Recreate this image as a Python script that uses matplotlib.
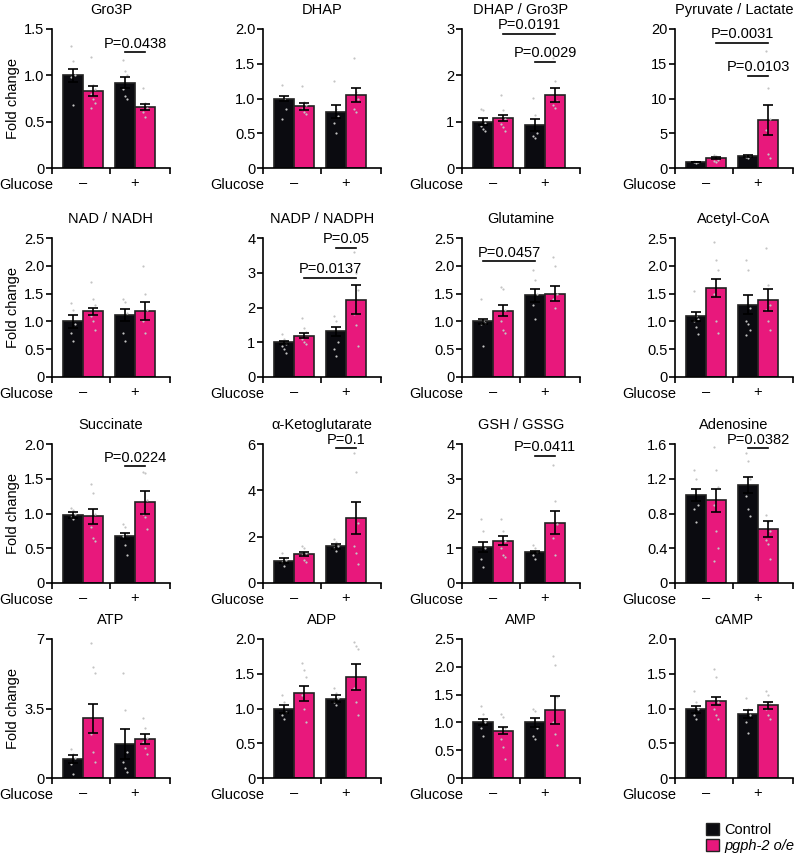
import matplotlib
matplotlib.use("Agg")
import matplotlib.pyplot as plt
import numpy as np
from matplotlib.patches import Patch

plt.rcParams['font.family'] = ['Liberation Sans', 'DejaVu Sans']
plt.rcParams['font.size'] = 10.5

# panels, row by row
titles = ['Gro3P', 'DHAP', 'DHAP / Gro3P', 'Pyruvate / Lactate',
          'NAD / NADH', 'NADP / NADPH', 'Glutamine', 'Acetyl-CoA',
          'Succinate', 'α-Ketoglutarate', 'GSH / GSSG', 'Adenosine',
          'ATP', 'ADP', 'AMP', 'cAMP']
yticks = [['0', '0.5', '1.0', '1.5'], ['0', '0.5', '1.0', '1.5', '2.0'], ['0', '1', '2', '3'],
          ['0', '5', '10', '15', '20'],
          ['0', '0.5', '1.0', '1.5', '2.0', '2.5'], ['0', '1', '2', '3', '4'],
          ['0', '0.5', '1.0', '1.5', '2.0', '2.5'], ['0', '0.5', '1.0', '1.5', '2.0', '2.5'],
          ['0', '0.5', '1.0', '1.5', '2.0'], ['0', '2', '4', '6'], ['0', '1', '2', '3', '4'],
          ['0', '0.4', '0.8', '1.2', '1.6'],
          ['0', '3.5', '7'], ['0', '0.5', '1.0', '1.5', '2.0'],
          ['0', '0.5', '1.0', '1.5', '2.0', '2.5'], ['0', '0.5', '1.0', '1.5', '2.0']]

# means: control / pgph-2 o/e, glucose - and +
ctrl_neg = [1.00, 1.00, 1.00, 0.86, 1.00, 1.00, 1.00, 1.09, 0.98, 0.97, 1.03, 1.01, 0.97, 0.99, 1.01, 0.99]
oe_neg   = [0.83, 0.89, 1.08, 1.40, 1.18, 1.19, 1.19, 1.60, 0.96, 1.25, 1.22, 0.95, 3.00, 1.22, 0.85, 1.11]
ctrl_pos = [0.92, 0.81, 0.92, 1.70, 1.11, 1.32, 1.47, 1.30, 0.68, 1.58, 0.88, 1.13, 1.72, 1.14, 1.00, 0.92]
oe_pos   = [0.66, 1.05, 1.58, 6.90, 1.18, 2.23, 1.50, 1.39, 1.16, 2.80, 1.74, 0.62, 1.97, 1.45, 1.23, 1.05]
# SEM
ctrl_neg_err = [0.07, 0.04, 0.07, 0.06, 0.11, 0.04, 0.05, 0.08, 0.04, 0.10, 0.14, 0.07, 0.20, 0.06, 0.05, 0.05]
oe_neg_err   = [0.05, 0.05, 0.06, 0.15, 0.07, 0.07, 0.10, 0.17, 0.11, 0.10, 0.12, 0.13, 0.75, 0.11, 0.06, 0.06]
ctrl_pos_err = [0.06, 0.09, 0.13, 0.10, 0.11, 0.13, 0.12, 0.17, 0.04, 0.12, 0.03, 0.09, 0.76, 0.05, 0.08, 0.06]
oe_pos_err   = [0.03, 0.10, 0.15, 2.10, 0.16, 0.41, 0.14, 0.20, 0.16, 0.70, 0.33, 0.09, 0.25, 0.19, 0.25, 0.05]

# individual replicates
pts_ctrl_neg = [[1.32, 1.15, 1.0, 0.98, 0.68], [1.2, 1.0, 0.85, 0.7], [1.28, 1.25, 0.98, 0.9, 0.85, 0.8],
                [1.0, 0.9, 0.85, 0.8, 0.7], [1.33, 1.2, 0.95, 0.8, 0.65], [1.25, 1.1, 0.95, 0.9, 0.8, 0.7],
                [1.4, 1.0, 0.98, 0.95, 0.55], [1.55, 1.1, 1.05, 1.0, 0.9, 0.78], [1.08, 1.05, 1.0, 0.95, 0.92],
                [1.3, 1.1, 1.0, 0.9, 0.75], [1.85, 1.5, 1.0, 0.7, 0.45], [1.3, 1.2, 0.9, 0.85, 0.7],
                [1.45, 1.2, 1.0, 0.7, 0.2], [1.2, 1.1, 0.95, 0.9, 0.85], [1.3, 1.15, 1.0, 0.9, 0.75],
                [1.25, 1.1, 1.0, 0.9, 0.85]]
pts_oe_neg = [[1.2, 0.9, 0.85, 0.8, 0.75, 0.7, 0.65], [1.18, 0.95, 0.9, 0.85, 0.8, 0.78],
              [1.58, 1.25, 1.05, 0.95, 0.88, 0.8], [1.9, 1.7, 1.2, 1.0, 0.9], [1.7, 1.4, 1.3, 1.1, 1.0, 0.85],
              [1.7, 1.4, 1.3, 1.1, 1.0, 0.95], [1.62, 1.58, 1.2, 1.0, 0.85, 0.8], [2.43, 2.1, 1.93, 1.5, 1.0, 0.8],
              [1.43, 1.3, 1.0, 0.8, 0.65, 0.6], [1.6, 1.5, 1.3, 1.2, 1.0, 0.9], [1.85, 1.5, 1.2, 1.0, 0.8, 0.75],
              [1.56, 1.3, 1.1, 0.9, 0.6, 0.4, 0.25], [6.8, 5.6, 5.3, 2.2, 1.3, 0.8],
              [1.65, 1.55, 1.45, 1.2, 1.0, 0.8], [1.15, 1.1, 0.9, 0.7, 0.55, 0.35], [1.57, 1.45, 1.1, 1.0, 0.9, 0.85]]
pts_ctrl_pos = [[1.17, 1.05, 1.0, 0.85, 0.78, 0.75], [1.25, 0.85, 0.75, 0.65, 0.5], [1.52, 1.15, 0.75, 0.7, 0.65],
                [1.9, 1.8, 1.7, 1.6, 1.5], [1.4, 1.35, 1.15, 0.8, 0.65], [1.75, 1.6, 1.0, 0.8, 0.6],
                [1.92, 1.75, 1.5, 1.3, 1.05], [2.1, 1.93, 1.25, 1.0, 0.95, 0.85, 0.75], [0.85, 0.8, 0.72, 0.68, 0.55, 0.4],
                [1.9, 1.75, 1.6, 1.5, 1.4], [1.1, 1.0, 0.9, 0.8, 0.7], [1.5, 1.4, 1.2, 1.0, 0.85, 0.77],
                [5.3, 3.4, 1.3, 0.8, 0.5, 0.3], [1.3, 1.22, 1.15, 1.1, 1.05], [1.25, 1.2, 0.9, 0.75, 0.7],
                [1.15, 1.0, 0.9, 0.8, 0.65]]
pts_oe_pos = [[0.86, 0.7, 0.65, 0.6, 0.55], [1.58, 1.1, 1.0, 0.85, 0.8], [2.38, 1.88, 1.45, 1.35, 1.3],
              [16.8, 11.5, 7.0, 5.5, 2.0, 1.5], [2.0, 1.5, 1.2, 1.0, 0.8], [3.6, 3.0, 2.5, 1.8, 1.5, 0.9],
              [2.15, 2.0, 1.5, 1.4, 1.25], [2.32, 1.65, 1.3, 1.2, 1.0, 0.85], [1.6, 1.58, 1.2, 1.0, 0.95, 0.78],
              [5.6, 4.8, 2.6, 1.6, 1.3, 0.8], [3.4, 2.35, 1.7, 1.3, 0.8], [0.78, 0.7, 0.6, 0.5, 0.45, 0.28],
              [3.0, 2.5, 2.0, 1.8, 1.5, 1.2], [1.95, 1.9, 1.85, 1.3, 1.1, 0.9], [2.2, 2.03, 1.45, 1.0, 0.8, 0.6],
              [1.25, 1.2, 1.1, 1.0, 0.9, 0.85]]

# significance brackets: panel, bar a, bar b, height, label
brackets = [(0, 2, 3, 1.25, 'P=0.0438'),
            (2, 1, 3, 2.89, 'P=0.0191'), (2, 2, 3, 2.29, 'P=0.0029'),
            (3, 1, 3, 18.0, 'P=0.0031'), (3, 2, 3, 13.3, 'P=0.0103'),
            (5, 2, 3, 3.71, 'P=0.05'), (5, 1, 3, 2.86, 'P=0.0137'),
            (6, 0, 2, 2.08, 'P=0.0457'),
            (8, 2, 3, 1.68, 'P=0.0224'),
            (9, 2, 3, 5.82, 'P=0.1'),
            (10, 2, 3, 3.66, 'P=0.0411'),
            (11, 2, 3, 1.55, 'P=0.0382')]

black = '#0b0b10'
pink = '#e8187c'
dotc = '#c4c4c4'

W, H = 800, 856
lefts = [52, 263, 462, 675]
tops = [29, 238, 444, 639]
aw, ah = 118, 139
xpos = [1.05, 2.05, 3.65, 4.65]

fig = plt.figure(figsize=(8, 8.56), dpi=100)

for i, name in enumerate(titles):
    r, c = divmod(i, 4)
    ax = fig.add_axes([lefts[c] / W, 1 - (tops[r] + ah) / H, aw / W, ah / H])
    means = [ctrl_neg[i], oe_neg[i], ctrl_pos[i], oe_pos[i]]
    errs = [ctrl_neg_err[i], oe_neg_err[i], ctrl_pos_err[i], oe_pos_err[i]]
    pts = [pts_ctrl_neg[i], pts_oe_neg[i], pts_ctrl_pos[i], pts_oe_pos[i]]
    cols = [black, pink, black, pink]
    ax.bar(xpos, means, width=1.0, color=cols, edgecolor='#222222', linewidth=1.2, zorder=2)
    for k in range(4):
        p = np.array(pts[k])
        off = ((np.arange(len(p)) % 3) - 1) * 0.12
        ax.scatter(xpos[k] + off, p, s=2.5, color=dotc, linewidths=0, zorder=3)
    ax.errorbar(xpos, means, yerr=errs, fmt='none', ecolor='black', elinewidth=1.2,
                capsize=3.3, capthick=1.2, zorder=4)

    labs = yticks[i]
    vals = [float(t) for t in labs]
    ax.set_ylim(0, vals[-1])
    ax.set_yticks(vals)
    ax.set_yticklabels(labs)
    ax.set_xlim(0, 5.9)
    ax.set_xticks([1.55, 4.15])
    ax.set_xticklabels(['–', '+'])
    ax.set_xticks([0, 2.9, 5.9], minor=True)
    ax.tick_params(axis='x', which='major', length=0, pad=6)
    ax.tick_params(axis='x', which='minor', length=4, width=1.2, direction='out')
    ax.tick_params(axis='y', length=4, width=1.2, direction='out', pad=1.5)
    for s in ['top', 'right']:
        ax.spines[s].set_visible(False)
    for s in ['left', 'bottom']:
        ax.spines[s].set_linewidth(1.2)
    ax.set_title(name, fontsize=10.5, pad=11)
    ax.annotate('Glucose', xy=(0, 0), xycoords='axes fraction', xytext=(1, -12.5),
                textcoords='offset points', ha='right', va='center')
    if c == 0:
        ax.text(-0.33, 0.5, 'Fold change', transform=ax.transAxes, rotation=90,
                ha='center', va='center')

    for (pi, a, b, yv, lab) in brackets:
        if pi != i:
            continue
        ax.plot([xpos[a], xpos[b]], [yv, yv], color='black', linewidth=1.2, clip_on=False, zorder=5)
        ax.annotate(lab, xy=((xpos[a] + xpos[b]) / 2, yv), xytext=(0, 1.2), textcoords='offset points',
                    ha='center', va='bottom', annotation_clip=False)

handles = [Patch(facecolor=black, edgecolor='#222222', label='Control'),
           Patch(facecolor=pink, edgecolor='#222222', label='pgph-2 o/e')]
leg = fig.legend(handles=handles, loc='upper left', bbox_to_anchor=(706 / W, 1 - 823 / H),
                 frameon=False, handlelength=0.9, handleheight=0.9, handletextpad=0.35,
                 labelspacing=0.15, borderpad=0, borderaxespad=0)
leg.get_texts()[1].set_fontstyle('italic')

fig.savefig('out.png', dpi=100)
